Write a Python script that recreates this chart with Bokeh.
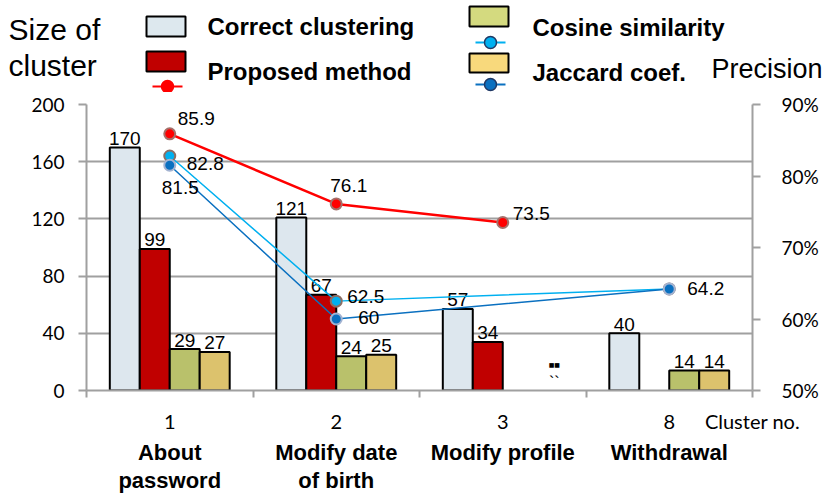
from bokeh.plotting import figure
from bokeh.layouts import column, row
from bokeh.models import (Range1d, LinearAxis, FixedTicker, PrintfTickFormatter,
                          ColumnDataSource)
from bokeh.core.properties import value
from bokeh.embed import file_html
from bokeh.resources import INLINE

# ---------------- data ----------------
cluster_no = ["1", "2", "3", "8"]
topics = ["About\npassword", "Modify date\nof birth", "Modify profile", "Withdrawal"]

size_correct = [170, 121, 57, 40]
size_proposed = [99, 67, 34, None]
size_cosine = [29, 24, None, 14]
size_jaccard = [27, 25, None, 14]

prec_proposed = [85.9, 76.1, 73.5, None]
prec_cosine = [82.8, 62.5, None, 64.2]
prec_jaccard = [81.5, 60.0, None, 64.2]

size_ticks = [0, 40, 80, 120, 160, 200]
prec_ticks = [50, 60, 70, 80, 90]

# ---------------- styling ----------------
FONT = "Liberation Sans"
TICK_FONT = "Lato"
GRAY = "#a0a0a0"
BAR_W = 0.18
N = len(cluster_no)

W = 838
H_HEAD, H_MAIN, H_FOOT = 92, 346, 56
FRAME_H = 286
PX = 200 / FRAME_H          # size units per screen pixel

bar_series = [
    # name, values, bar fill, legend fill, slot offset
    ("Correct clustering", size_correct, "#dde7ee", "#dde8ee", -1.5),
    ("Proposed method", size_proposed, "#c00000", "#c00000", -0.5),
    ("Cosine similarity", size_cosine, "#b9c16b", "#d4da7f", 0.5),
    ("Jaccard coef.", size_jaccard, "#dcc26d", "#f8d97c", 1.5),
]

line_series = [
    # name, values, line colour, marker fill, marker outline, width, label offsets (px)
    ("Cosine similarity", prec_cosine, "#00b0f0", "#00b0f0", "#8c6e64", 1.5,
     [(17, 8), (11, -5), None, None]),
    ("Jaccard coef.", prec_jaccard, "#0a70c0", "#0a70c0", "#a3b3d1", 1.5,
     [(-8, 22), (22, -2), None, (18, 0)]),
    ("Proposed method", prec_proposed, "#ff0000", "#ff0000", "#a5706a", 2.5,
     [(8, -15), (-6, -18), (10, -9), None]),
]

# ---------------- main chart ----------------
p = figure(width=W, height=H_MAIN, x_range=Range1d(0, N), y_range=Range1d(0, 200),
           title=None, toolbar_location=None, output_backend="svg",
           min_border_left=86, min_border_right=86, min_border_top=12,
           min_border_bottom=48)
p.extra_y_ranges = {"prec": Range1d(50, 90)}
p.outline_line_color = None
p.background_fill_color = "white"

# bars + value labels
for name, vals, fill, _, slot in bar_series:
    xs = [i + 0.5 + slot * BAR_W for i, v in enumerate(vals) if v is not None]
    tops = [v for v in vals if v is not None]
    src = ColumnDataSource(dict(x=xs, top=tops, lab=[f"{v:g}" for v in tops]))
    p.vbar(x="x", top="top", bottom=0, width=BAR_W, source=src,
           fill_color=fill, line_color="black", line_width=2)
    p.text(x="x", y="top", text="lab", source=src, text_align="center",
           text_baseline="middle", y_offset=-9, text_font=value(FONT),
           text_font_size="19px", text_color="black")

# precision lines, markers and labels
for name, vals, color, mfill, mline, lw, offs in line_series:
    xs = [i + 0.5 for i, v in enumerate(vals) if v is not None]
    ys = [v for v in vals if v is not None]
    p.line(xs, ys, y_range_name="prec", line_color=color, line_width=lw)
for name, vals, color, mfill, mline, lw, offs in line_series:
    xs = [i + 0.5 for i, v in enumerate(vals) if v is not None]
    ys = [v for v in vals if v is not None]
    p.scatter(xs, ys, y_range_name="prec", marker="circle", size=11,
              fill_color=mfill, line_color=mline, line_width=2)
for name, vals, color, mfill, mline, lw, offs in line_series:
    lx, ly, lt, dx, dy = [], [], [], [], []
    for i, v in enumerate(vals):
        if v is None or offs[i] is None:
            continue
        lx.append(i + 0.5); ly.append(v); lt.append(f"{v:g}")
        dx.append(offs[i][0]); dy.append(offs[i][1])
    src = ColumnDataSource(dict(x=lx, y=ly, t=lt, dx=dx, dy=dy))
    p.text(x="x", y="y", text="t", source=src, y_range_name="prec",
           x_offset="dx", y_offset="dy", text_align="left",
           text_baseline="middle", text_font=value(FONT), text_font_size="19px",
           text_color="black")

# vertical ellipsis between cluster 3 and cluster 8
p.text(x=[2.81], y=[26 * PX], text=["\u25a0\u25a0"], text_font=value("DejaVu Sans"),
       text_font_size="6px", text_align="center", text_baseline="middle",
       text_color="black")
p.text(x=[2.81], y=[8 * PX], text=["``"], text_font=value(FONT),
       text_font_size="16px", text_align="center", text_baseline="middle",
       text_color="black")

# left axis + grid
p.yaxis.ticker = FixedTicker(ticks=size_ticks)
p.ygrid.ticker = FixedTicker(ticks=size_ticks)
p.ygrid.grid_line_color = GRAY
p.ygrid.grid_line_width = 2
p.xgrid.grid_line_color = None

right = LinearAxis(y_range_name="prec", ticker=FixedTicker(ticks=prec_ticks),
                   formatter=PrintfTickFormatter(format="%d%%"))
p.add_layout(right, "right")

for ax in (p.yaxis[0], right):
    ax.axis_line_color = GRAY
    ax.axis_line_width = 2
    ax.major_tick_line_color = GRAY
    ax.major_tick_line_width = 2
    ax.major_tick_out = 8
    ax.major_tick_in = 0
    ax.minor_tick_line_color = None
    ax.major_label_text_font = TICK_FONT
    ax.major_label_text_font_size = "19px"
    ax.major_label_text_color = "black"
p.yaxis[0].major_label_standoff = 14
right.major_label_standoff = 21

# bottom axis: cluster numbers at group centres, ticks at group boundaries,
# axis caption at the right end
xa = p.xaxis[0]
label_ticks = [i + 0.5 for i in range(N)]
xa.ticker = FixedTicker(ticks=label_ticks + [N], minor_ticks=list(range(N + 1)))
overrides = {t: c for t, c in zip(label_ticks, cluster_no)}
overrides[N] = "Cluster no."
xa.major_label_overrides = overrides
xa.axis_line_color = GRAY
xa.axis_line_width = 2
xa.major_tick_line_color = None
xa.major_tick_out = 0
xa.major_tick_in = 0
xa.minor_tick_line_color = GRAY
xa.minor_tick_line_width = 2
xa.minor_tick_out = 7
xa.minor_tick_in = 0
xa.major_label_standoff = 11
xa.major_label_text_font = TICK_FONT
xa.major_label_text_font_size = "20px"
xa.major_label_text_color = "black"

# ---------------- footer: topic names under each cluster ----------------
f = figure(width=W, height=H_FOOT, x_range=p.x_range, y_range=Range1d(H_FOOT, 0),
           title=None, toolbar_location=None, output_backend="svg",
           min_border_left=86, min_border_right=86, min_border_top=0,
           min_border_bottom=0, x_axis_location=None, y_axis_location=None)
f.grid.visible = False
f.outline_line_color = None
tx, ty, tt = [], [], []
for i, topic in enumerate(topics):
    for k, line in enumerate(topic.split("\n")):
        tx.append(i + 0.5); ty.append(14 + 28 * k); tt.append(line)
f.text(x=tx, y=ty, text=tt, text_font=value(FONT), text_font_style="bold",
       text_font_size="22px", text_align="center", text_baseline="middle",
       text_color="black")

# ---------------- header: axis titles and legend ----------------
h = figure(width=W, height=H_HEAD, x_range=Range1d(0, W), y_range=Range1d(H_HEAD, 0),
           title=None, toolbar_location=None, output_backend="svg",
           min_border=0, min_border_left=0, min_border_right=0,
           x_axis_location=None, y_axis_location=None)
h.grid.visible = False
h.outline_line_color = None

h.text(x=[8, 8], y=[29, 65], text=["Size of", "cluster"], text_font=value(FONT),
       text_font_size="30px", text_baseline="middle", text_color="black")
h.text(x=[711], y=[68], text=["Precision"], text_font=value(FONT),
       text_font_size="27px", text_baseline="middle", text_color="black")

legend_slots = {
    # swatch left, swatch top, swatch bottom, text left, text centre, marker y
    "Correct clustering": (146, 16, 36, 207, 26, None),
    "Proposed method": (146, 51, 71, 207, 71, 86),
    "Cosine similarity": (469, 6, 26, 532, 27, 42),
    "Jaccard coef.": (469, 53, 72, 532, 72, 84),
}
line_style = {n: (c, mf, lw) for n, _, c, mf, _, lw, _ in line_series}
legend_outline = {"Proposed method": "#ff0000", "Cosine similarity": "#203864",
                  "Jaccard coef.": "#203864"}
for name, _, _, lfill, _ in bar_series:
    sx, st, sb, tx0, tc, my = legend_slots[name]
    h.quad(left=[sx], right=[sx + 39], top=[st], bottom=[sb], fill_color=lfill,
           line_color="black", line_width=2)
    h.text(x=[tx0], y=[tc], text=[name], text_font=value(FONT),
           text_font_style="bold", text_font_size="24px",
           text_baseline="middle", text_color="black")
    if my is not None:
        c, mf, lw = line_style[name]
        h.segment(x0=[sx + 6], x1=[sx + 36], y0=[my], y1=[my], line_color=c,
                  line_width=2)
        h.scatter(x=[sx + 21], y=[my], marker="circle", size=12, fill_color=mf,
                  line_color=legend_outline[name], line_width=1.5)

layout = column(row(h), column(p, f))
open("out.html", "w").write(file_html(layout, INLINE))
